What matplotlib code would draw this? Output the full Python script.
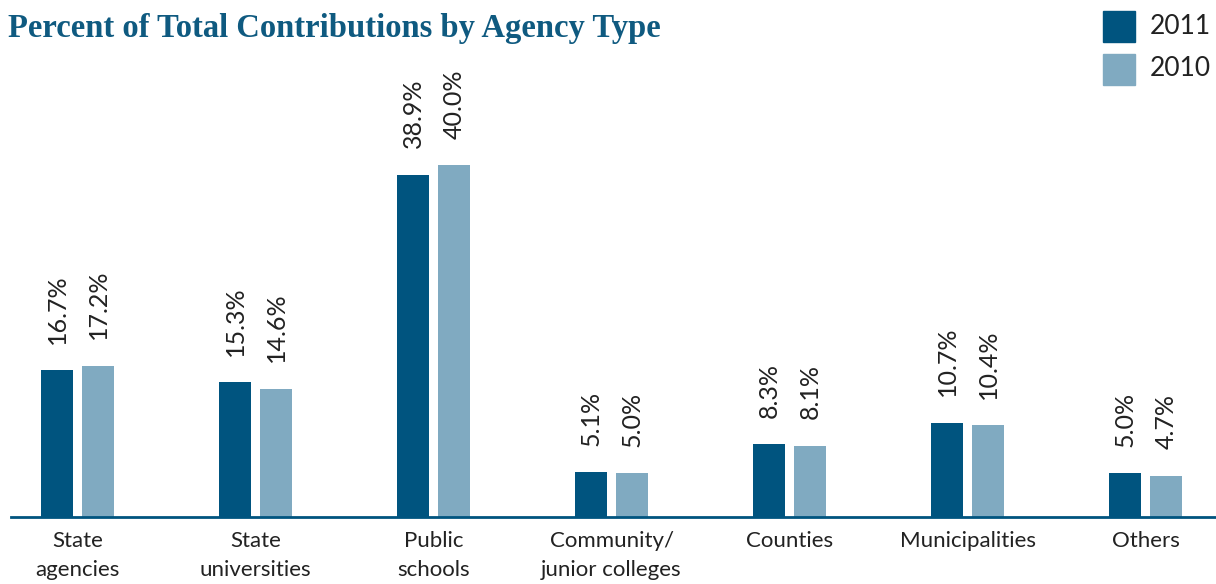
import matplotlib
matplotlib.use('Agg')
import matplotlib.pyplot as plt
from matplotlib.patches import Rectangle
import numpy as np

# Data
categories = ['State\nagencies', 'State\nuniversities', 'Public\nschools',
              'Community/\njunior colleges', 'Counties', 'Municipalities', 'Others']
values_2011 = [16.7, 15.3, 38.9, 5.1, 8.3, 10.7, 5.0]
values_2010 = [17.2, 14.6, 40.0, 5.0, 8.1, 10.4, 4.7]

dark = '#00547f'
light = '#80aac1'
text_col = '#222222'
plt.rcParams['font.family'] = ['Lato', 'DejaVu Sans']

fig = plt.figure(figsize=(12.16, 5.84), dpi=100)
ax = fig.add_axes([11 / 1216, 67 / 584, 1 - 11 / 1216, 517 / 584])

x = np.arange(len(categories))
w = 0.18
off = 0.115
b1 = ax.bar(x - off, values_2011, w, color=dark)
b2 = ax.bar(x + off, values_2010, w, color=light)

for bars, vals in ((b1, values_2011), (b2, values_2010)):
    for b, v in zip(bars, vals):
        ax.annotate(f'{v:.1f}%', (b.get_x() + b.get_width() / 2, v),
                    xytext=(0, 19), textcoords='offset points',
                    rotation=90, ha='center', va='bottom',
                    fontsize=18, color=text_col)

ax.set_xlim(-0.374, 6.396)
ax.set_ylim(0, 517 / 8.8)
ax.set_xticks(x)
ax.set_xticklabels(categories, fontsize=16, color=text_col, linespacing=1.6)
ax.tick_params(axis='x', length=0, pad=10)
ax.set_yticks([])
for s in ['top', 'right', 'left']:
    ax.spines[s].set_visible(False)
ax.spines['bottom'].set_color(dark)
ax.spines['bottom'].set_linewidth(2)

fig.text(8 / 1216, 1 - 28 / 584, 'Percent of Total Contributions by Agency Type',
         fontsize=23.5, fontweight='semibold', color='#0f5a80',
         family='Liberation Serif', va='center', ha='left')

# legend
for i, (lab, col) in enumerate((('2011', dark), ('2010', light))):
    y0 = 42 + i * 43
    fig.add_artist(Rectangle((1103 / 1216, 1 - y0 / 584), 32 / 1216, 31 / 584,
                             transform=fig.transFigure, color=col))
    fig.text(1150 / 1216, 1 - (y0 - 16) / 584, lab, fontsize=19,
             color=text_col, va='center', ha='left')

fig.savefig('out.png', dpi=100)
